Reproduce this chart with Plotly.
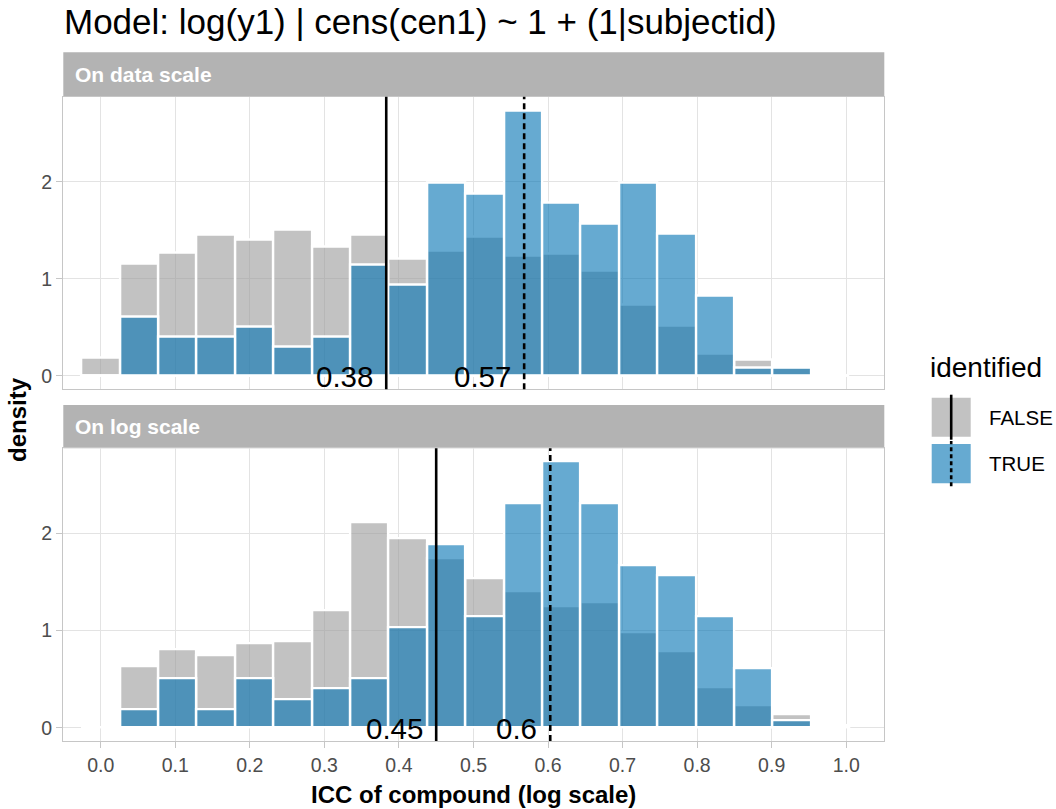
import plotly.graph_objects as go

# ---------------- data ----------------
bin_width = 0.0515
bin_index = list(range(20))

# "On data scale" panel (density)
data_false = [0.19, 1.16, 1.27, 1.45, 1.40, 1.51, 1.33, 1.45, 1.21, 1.285,
              1.43, 1.24, 1.26, 1.08, 0.73, 0.52, 0.23, 0.17, 0.087, 0.0]
data_true = [0.0, 0.615, 0.40, 0.40, 0.51, 0.30, 0.40, 1.15, 0.935, 1.99,
             1.88, 2.73, 1.78, 1.57, 1.99, 1.46, 0.825, 0.087, 0.087, 0.0]

# "On log scale" panel (density)
log_false = [0.0, 0.627, 0.81, 0.741, 0.872, 0.889, 1.207, 2.109, 1.953, 1.743,
             1.536, 1.404, 1.252, 1.293, 0.983, 0.79, 0.412, 0.233, 0.14, 0.02]
log_true = [0.0, 0.189, 0.506, 0.189, 0.506, 0.295, 0.402, 0.506, 1.038, 1.888,
            1.142, 2.313, 2.738, 2.313, 1.674, 1.570, 1.142, 0.609, 0.078, 0.0]

# medians (FALSE, TRUE) per panel
data_medians = [0.383, 0.568]
log_medians = [0.450, 0.603]

panel_titles = ["On data scale", "On log scale"]
x_ticks = [0.0, 0.1, 0.2, 0.3, 0.4, 0.5, 0.6, 0.7, 0.8, 0.9, 1.0]
y_ticks = [0, 1, 2]
groups = ["FALSE", "TRUE"]

# ---------------- style ----------------
W, H = 1056, 809
FONT = "Liberation Sans, Arial, Helvetica, sans-serif"
GRAY_FILL = "rgba(153,153,153,0.6)"
BLUE_FILL = "rgba(0,114,178,0.6)"
GRAY_KEY = "#c2c2c2"
BLUE_KEY = "#66aad1"
GRID = "#e3e3e3"
BORDER = "#c6c6c6"
STRIP = "#b3b3b3"
TICKTXT = "#4d4d4d"

def px(xp):
    return xp / W

def py(yp):
    return 1 - yp / H

PL, PR = 63.3, 884.3
TOP_STRIP = (52.3, 96.7)
TOP_PANEL = (96.7, 389.3)
BOT_STRIP = (405.0, 448.3)
BOT_PANEL = (448.3, 741.0)

centers = [i * bin_width for i in bin_index]

fig = go.Figure()
panels = [(data_false, data_true, "x", "y"), (log_false, log_true, "x2", "y2")]
for fvals, tvals, xa, ya in panels:
    fig.add_trace(go.Bar(x=centers, y=fvals, width=bin_width, xaxis=xa, yaxis=ya,
                         marker=dict(color=GRAY_FILL, line=dict(color="white", width=2.4)),
                         name="FALSE", showlegend=False, hoverinfo="x+y"))
    fig.add_trace(go.Bar(x=centers, y=tvals, width=bin_width, xaxis=xa, yaxis=ya,
                         marker=dict(color=BLUE_FILL, line=dict(color="white", width=2.4)),
                         name="TRUE", showlegend=False, hoverinfo="x+y"))

xrange = [-0.0502, 1.0511]
yrange = [-0.137, 2.875]

common_x = dict(range=xrange, tickvals=x_ticks, showgrid=True, gridcolor=GRID, gridwidth=1.2,
                zeroline=False, showline=True, mirror=True, linecolor=BORDER, linewidth=1.4,
                domain=[px(PL), px(PR)])
common_y = dict(range=yrange, tickvals=y_ticks, showgrid=True, gridcolor=GRID, gridwidth=1.2,
                zeroline=False, showline=True, mirror=True, linecolor=BORDER, linewidth=1.4,
                ticks="outside", ticklen=6, tickcolor=BORDER, tickwidth=1.2,
                tickfont=dict(size=19.5, color=TICKTXT, family=FONT))

fig.update_layout(
    width=W, height=H, margin=dict(l=0, r=0, t=0, b=0),
    paper_bgcolor="white", plot_bgcolor="white", barmode="overlay", bargap=0,
    xaxis=dict(**common_x, anchor="y", showticklabels=False, ticks=""),
    yaxis=dict(**common_y, anchor="x", domain=[py(TOP_PANEL[1]), py(TOP_PANEL[0])]),
    xaxis2=dict(**common_x, anchor="y2", showticklabels=True, ticks="outside", ticklen=6,
                tickcolor=BORDER, tickwidth=1.2, tickformat=".1f",
                tickfont=dict(size=19.5, color=TICKTXT, family=FONT)),
    yaxis2=dict(**common_y, anchor="x2", domain=[py(BOT_PANEL[1]), py(BOT_PANEL[0])]),
    font=dict(family=FONT),
)

shapes = []
annotations = []
# strips
for (s0, s1), title in zip([TOP_STRIP, BOT_STRIP], panel_titles):
    shapes.append(dict(type="rect", xref="paper", yref="paper", x0=px(PL), x1=px(PR),
                       y0=py(s1), y1=py(s0), fillcolor=STRIP, line=dict(width=0), layer="below"))
    annotations.append(dict(text=title, xref="paper", yref="paper", x=px(PL + 10),
                            y=py((s0 + s1) / 2), xanchor="left", yanchor="middle", showarrow=False,
                            font=dict(size=21, color="white", family=FONT, weight="bold")))

# median lines and labels
for meds, xa, ya in [(data_medians, "x", "y"), (log_medians, "x2", "y2")]:
    for m, dash in zip(meds, ["solid", "6px,4px"]):
        shapes.append(dict(type="line", xref=xa, yref=ya + " domain", x0=m, x1=m, y0=0, y1=1,
                           line=dict(color="black", width=2.6, dash=dash), layer="above"))
        annotations.append(dict(text=f"{round(m, 2):g}", xref=xa, yref=ya + " domain", x=m, y=0,
                                xanchor="right", yanchor="bottom", xshift=-11, yshift=-6,
                                showarrow=False, font=dict(size=29.5, color="black", family=FONT)))

# title
annotations.append(dict(text="Model: log(y1) | cens(cen1) ~ 1 + (1|subjectid)", xref="paper", yref="paper",
                        x=px(62), y=py(21), xanchor="left", yanchor="middle", showarrow=False,
                        font=dict(size=35, color="black", family=FONT)))
# axis titles
annotations.append(dict(text="<b>density</b>", xref="paper", yref="paper", x=px(17), y=py(420),
                        xanchor="center", yanchor="middle", textangle=-90, showarrow=False,
                        font=dict(size=24, color="black", family=FONT)))
annotations.append(dict(text="<b>ICC of compound (log scale)</b>", xref="paper", yref="paper",
                        x=px((PL + PR) / 2), y=py(794), xanchor="center", yanchor="middle",
                        showarrow=False, font=dict(size=24, color="black", family=FONT)))

# legend (manual)
annotations.append(dict(text="identified", xref="paper", yref="paper", x=px(928), y=py(367),
                        xanchor="left", yanchor="middle", showarrow=False,
                        font=dict(size=28, color="black", family=FONT)))
keys = [(GRAY_KEY, 397.7, 436.7, "solid", groups[0]), (BLUE_KEY, 444.0, 483.3, "4px,3px", groups[1])]
for col, k0, k1, dash, lab in keys:
    shapes.append(dict(type="rect", xref="paper", yref="paper", x0=px(931.7), x1=px(970.7),
                       y0=py(k1), y1=py(k0), fillcolor=col, line=dict(width=0)))
    shapes.append(dict(type="line", xref="paper", yref="paper", x0=px(951.2), x1=px(951.2),
                       y0=py(k1 + 3), y1=py(k0 - 3), line=dict(color="black", width=2.6, dash=dash)))
    annotations.append(dict(text=lab, xref="paper", yref="paper", x=px(987), y=py((k0 + k1) / 2),
                            xanchor="left", yanchor="middle", showarrow=False,
                            font=dict(size=20.5, color="black", family=FONT)))

fig.update_layout(shapes=shapes, annotations=annotations)
fig.write_html("out.html", config={"displayModeBar": False},
               post_script="document.body.style.margin='0px';")
